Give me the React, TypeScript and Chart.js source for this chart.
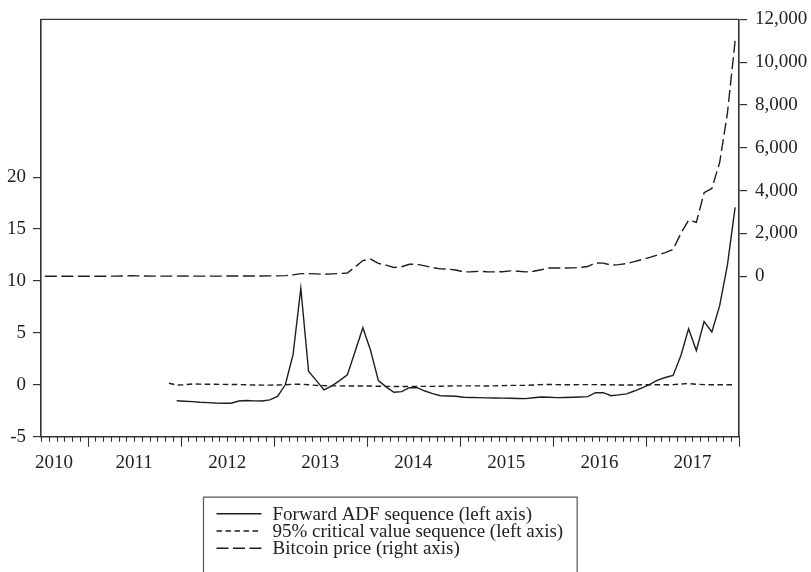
import React, { useEffect, useRef } from 'react';
import { Chart, registerables } from 'chart.js';

Chart.register(...registerables);

// ---------- data ----------
const FIRST_YEAR = 2010;
const FIRST_MONTH = 7; // July 2010
const N_MONTHS = 90; // 2010M07 .. 2017M12

const yearLabels = ['2010', '2011', '2012', '2013', '2014', '2015', '2016', '2017'];
const leftTicks = [-5, 0, 5, 10, 15, 20];
const rightTicks = [0, 2000, 4000, 6000, 8000, 10000, 12000];

// Bitcoin price, monthly from 2010M07 (right axis)
const bitcoin = [
  0.06, 0.07, 0.06, 0.1, 0.25, 0.23,
  0.4, 0.9, 0.85, 1.5, 6, 18, 14, 10, 5.5, 3.5, 2.5, 3.5,
  6, 5.3, 4.9, 4.9, 5.1, 5.9, 8, 10.6, 11.5, 11.7, 11, 13.3,
  15, 25, 60, 120, 120, 108, 90, 110, 128, 150, 430, 730,
  800, 600, 520, 410, 440, 560, 560, 480, 400, 340, 330, 290,
  200, 210, 230, 210, 200, 210, 250, 230, 200, 230, 300, 380,
  380, 380, 390, 410, 450, 620, 610, 520, 540, 590, 680, 780,
  880, 990, 1100, 1250, 2000, 2620, 2520, 3900, 4100, 5300, 7600, 11000,
];

// 95% critical value sequence, starts at 2011M11 (left axis)
const criticalStart = 16;
const critical = [
  0.15, -0.02, 0.0, 0.08, 0.06, 0.05, 0.05, 0.04, 0.03, 0.02,
  0.0, -0.02, -0.03, -0.03, -0.02, 0.0, 0.05, 0.06, 0.0, -0.06,
  -0.08, -0.1, -0.1, -0.12, -0.12, -0.12, -0.12, -0.14, -0.15, -0.16,
  -0.17, -0.17, -0.16, -0.15, -0.15, -0.14, -0.12, -0.1, -0.1, -0.1,
  -0.1, -0.12, -0.1, -0.08, -0.06, -0.06, -0.06, -0.02, 0.02, 0.04,
  0.02, 0.0, 0.0, 0.02, 0.02, 0.02, 0.0, 0.0, -0.02, -0.02,
  -0.02, 0.0, 0.0, 0.0, 0.0, 0.02, 0.08, 0.12, 0.05, 0.02,
  0.0, 0.0, 0.0, 0.0,
];

// Forward ADF sequence, starts at 2011M12 (left axis)
const adfStart = 17;
const adf = [
  -1.53, -1.58, -1.62, -1.68, -1.72, -1.76, -1.78, -1.78, -1.56, -1.52,
  -1.55, -1.56, -1.45, -1.12, 0.0, 2.9, 9.3, 1.3, 0.4, -0.5,
  -0.1, 0.4, 0.95, 3.2, 5.5, 3.3, 0.4, -0.2, -0.72, -0.66,
  -0.28, -0.28, -0.6, -0.85, -1.05, -1.08, -1.1, -1.2, -1.22, -1.24,
  -1.26, -1.27, -1.28, -1.3, -1.32, -1.33, -1.25, -1.18, -1.2, -1.24,
  -1.22, -1.2, -1.17, -1.14, -0.76, -0.76, -1.05, -0.97, -0.88, -0.6,
  -0.3, 0.05, 0.45, 0.7, 0.9, 2.8, 5.4, 3.3, 6.1, 5.1,
  7.6, 11.5, 17.1,
];

const seriesNames = [
  'Forward ADF sequence (left axis)',
  '95% critical value sequence (left axis)',
  'Bitcoin price (right axis)',
];

// ---------- styling ----------
const FONT = '"Liberation Serif", "Times New Roman", serif';
const FONT_SIZE = 19;
const INK = '#222';
const AXIS = '#333';

const toPoints = (vals: number[], start: number) =>
  vals.map((v, i) => ({ x: start + i + 0.5, y: v }));

const evPlugin = {
  id: 'evFrame',
  afterDraw(chart: any) {
    const { ctx, chartArea: a, scales } = chart;
    const x = scales.x;
    ctx.save();
    ctx.strokeStyle = AXIS;
    const line = (x1: number, y1: number, x2: number, y2: number) => {
      ctx.beginPath();
      ctx.moveTo(x1, y1);
      ctx.lineTo(x2, y2);
      ctx.stroke();
    };
    // top frame and bottom axis
    ctx.lineWidth = 1.2;
    line(a.left, a.top, a.right, a.top);
    ctx.lineWidth = 1.6;
    line(a.left - 0.8, a.bottom, a.right + 0.8, a.bottom);
    // month ticks
    ctx.lineWidth = 1.1;
    const firstJan = (13 - FIRST_MONTH) % 12;
    for (let m = 0; m <= N_MONTHS; m++) {
      const px = Math.round(x.getPixelForValue(m)) + 0.5;
      const major = (m - firstJan) % 12 === 0;
      line(px, a.bottom, px, a.bottom + (major ? 10 : 5));
    }
    // year labels
    ctx.fillStyle = INK;
    ctx.font = `${FONT_SIZE}px ${FONT}`;
    ctx.textAlign = 'center';
    ctx.textBaseline = 'alphabetic';
    yearLabels.forEach((lab, k) => {
      const yr = parseInt(lab, 10);
      const start = (yr - FIRST_YEAR) * 12 - (FIRST_MONTH - 1);
      const end = start + 12;
      let px = x.getPixelForValue((start + end) / 2);
      const w = ctx.measureText(lab).width;
      px = Math.max(px, a.left - 6 + w / 2);
      ctx.fillText(lab, px, a.bottom + 31);
    });

    // legend box
    const ds = chart.data.datasets;
    const textW = Math.max(...ds.map((d: any) => ctx.measureText(d.label).width));
    const padL = 13, sample = 45, gap = 11, padR = 14;
    const boxW = padL + sample + gap + textW + padR;
    const cx = (a.left + a.right) / 2;
    const bx = Math.round(cx - boxW / 2) + 0.5;
    const by = a.bottom + 60.5;
    ctx.lineWidth = 1.2;
    ctx.strokeStyle = '#555';
    ctx.beginPath();
    ctx.moveTo(bx, chart.height + 5);
    ctx.lineTo(bx, by);
    ctx.lineTo(bx + boxW, by);
    ctx.lineTo(bx + boxW, chart.height + 5);
    ctx.stroke();
    ctx.textAlign = 'left';
    ctx.textBaseline = 'middle';
    ds.forEach((d: any, i: number) => {
      const ry = by + 16.5 + i * 17.3;
      ctx.strokeStyle = d.borderColor;
      ctx.lineWidth = d.borderWidth;
      ctx.setLineDash(d.borderDash || []);
      line(bx + padL, ry, bx + padL + sample, ry);
      ctx.setLineDash([]);
      ctx.fillStyle = INK;
      ctx.fillText(d.label, bx + padL + sample + gap, ry + 1);
    });
    ctx.restore();
  },
};

export default function App() {
  const ref = useRef<HTMLCanvasElement | null>(null);
  useEffect(() => {
    if (!ref.current) return;
    const chart = new Chart(ref.current, {
      type: 'line',
      data: {
        datasets: [
          {
            label: seriesNames[0],
            data: toPoints(adf, adfStart),
            yAxisID: 'y',
            borderColor: '#1e1e1e',
            borderWidth: 1.4,
            pointRadius: 0,
            tension: 0,
          },
          {
            label: seriesNames[1],
            data: toPoints(critical, criticalStart),
            yAxisID: 'y',
            borderColor: '#1e1e1e',
            borderWidth: 1.4,
            borderDash: [5.5, 3.5],
            pointRadius: 0,
            tension: 0,
          },
          {
            label: seriesNames[2],
            data: toPoints(bitcoin, 0),
            yAxisID: 'y1',
            borderColor: '#1e1e1e',
            borderWidth: 1.4,
            borderDash: [12, 4.5],
            pointRadius: 0,
            tension: 0,
          },
        ],
      },
      options: {
        responsive: false,
        animation: false,
        devicePixelRatio: window.devicePixelRatio || 1,
        layout: { padding: { top: 18, left: 0, right: 0, bottom: 0 } },
        plugins: { legend: { display: false }, tooltip: { enabled: false } },
        scales: {
          x: {
            type: 'linear',
            min: 0,
            max: N_MONTHS,
            display: true,
            grid: { display: false },
            border: { display: false },
            ticks: { display: false },
            afterFit: (s: any) => {
              s.height = 135.3;
            },
          },
          y: {
            type: 'linear',
            position: 'left',
            min: -5,
            max: 35.2,
            afterBuildTicks: (s: any) => {
              s.ticks = leftTicks.map((v) => ({ value: v }));
            },
            afterFit: (s: any) => {
              s.width = 41;
            },
            grid: { drawOnChartArea: false, drawTicks: true, tickLength: 8, color: AXIS, lineWidth: 1.2 },
            border: { display: true, color: AXIS, width: 1.6 },
            ticks: {
              padding: 7,
              color: INK,
              font: { family: FONT, size: FONT_SIZE },
              callback: (v: any) => String(v),
            },
          },
          y1: {
            type: 'linear',
            position: 'right',
            min: -7500,
            max: 12000,
            afterBuildTicks: (s: any) => {
              s.ticks = rightTicks.map((v) => ({ value: v }));
            },
            afterFit: (s: any) => {
              s.width = 72;
            },
            grid: { drawOnChartArea: false, drawTicks: true, tickLength: 8, color: AXIS, lineWidth: 1.2 },
            border: { display: true, color: AXIS, width: 1.6 },
            ticks: {
              padding: 8,
              color: INK,
              font: { family: FONT, size: FONT_SIZE },
              callback: (v: any) => Number(v).toLocaleString('en-US'),
            },
          },
        },
      },
      plugins: [evPlugin],
    } as any);
    return () => chart.destroy();
  }, []);

  return (
    <div style={{ position: 'fixed', left: 0, top: 0, width: 811, height: 572, background: '#fff', overflow: 'hidden' }}>
      <canvas ref={ref} width={811} height={572} style={{ width: 811, height: 572, display: 'block' }} />
    </div>
  );
}
